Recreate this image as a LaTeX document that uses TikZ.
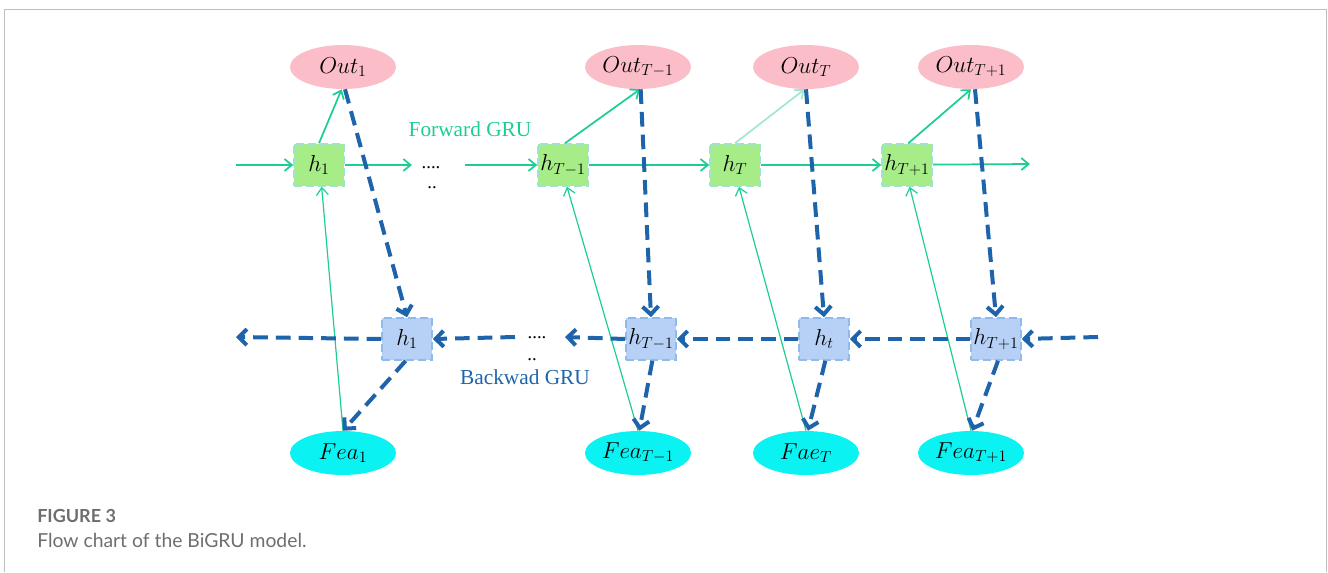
\documentclass[tikz,border=0pt]{standalone}
\usepackage{fontspec}
\setmainfont{Liberation Serif}
\newfontfamily\capfont{Lato}
\usetikzlibrary{arrows.meta,shapes.geometric}
\definecolor{pinkO}{RGB}{251,190,201}
\definecolor{cyanF}{RGB}{10,242,242}
\definecolor{greenF}{RGB}{166,236,135}
\definecolor{greenB}{RGB}{160,226,210}
\definecolor{blueF}{RGB}{182,209,245}
\definecolor{blueB}{RGB}{142,186,236}
\definecolor{fgreen}{RGB}{30,204,150}
\definecolor{fgreenL}{RGB}{160,232,208}
\definecolor{bblue}{RGB}{30,100,170}
\definecolor{capgray}{RGB}{110,110,110}
\definecolor{framegray}{RGB}{190,190,190}
\begin{document}
\begin{tikzpicture}[x=0.75pt,y=-0.75pt,
  outnode/.style={ellipse, fill=pinkO, minimum width=79.5pt, minimum height=33pt, inner sep=0pt, font=\fontsize{16.5}{19}\selectfont},
  feanode/.style={ellipse, fill=cyanF, minimum width=79.5pt, minimum height=33pt, inner sep=0pt, font=\fontsize{16.5}{19}\selectfont},
  fbox/.style={rectangle, fill=greenF, draw=greenB, line width=1.2pt, dash pattern=on 6pt off 3pt, minimum width=37.5pt, minimum height=31.5pt, inner sep=0pt, font=\fontsize{16.5}{19}\selectfont},
  bbox/.style={rectangle, fill=blueF, draw=blueB, line width=1.2pt, dash pattern=on 6pt off 3pt, minimum width=37.5pt, minimum height=31.5pt, inner sep=0pt, font=\fontsize{16.5}{19}\selectfont},
  fwd/.style={draw=fgreen, line width=1.3pt, -{Straight Barb[length=5.5pt,width=9pt]}},
  fwdthin/.style={draw=fgreen, line width=0.9pt, -{Straight Barb[length=5.5pt,width=9pt]}},
  bwd/.style={draw=bblue, line width=3pt, dash pattern=on 11pt off 6pt, -{Straight Barb[length=6pt,width=12pt]}},
  dots/.style={font=\fontsize{14}{16}\selectfont, inner sep=0pt},
  lab/.style={font=\fontsize{16}{19}\selectfont, inner sep=0pt}
]
\useasboundingbox (0,0) rectangle (1328,572);
\draw[framegray, line width=1.1pt] (4.5,572) -- (4.5,9.5) -- (1326.5,9.5) -- (1326.5,572);

% outputs
\node[outnode] (o1) at (343,67) {$Out_1$};
\node[outnode] (o2) at (638,67) {$Out_{T-1}$};
\node[outnode] (o3) at (806,67) {$Out_T$};
\node[outnode] (o4) at (971,67) {$Out_{T+1}$};
% inputs
\node[feanode] (f1) at (343,453) {$Fea_1$};
\node[feanode] (f2) at (638,453) {$Fea_{T-1}$};
\node[feanode] (f3) at (806,453) {$Fae_T$};
\node[feanode] (f4) at (971,453) {$Fea_{T+1}$};
% forward states
\node[fbox] (h1) at (319,165) {$h_1$};
\node[fbox] (h2) at (563,165) {$h_{T-1}$};
\node[fbox] (h3) at (735,165) {$h_T$};
\node[fbox] (h4) at (907,165) {$h_{T+1}$};
% backward states
\node[bbox] (b1) at (407,339) {$h_1$};
\node[bbox] (b2) at (651,339) {$h_{T-1}$};
\node[bbox] (b3) at (824,339) {$h_t$};
\node[bbox] (b4) at (996,339) {$h_{T+1}$};

% labels and dots
\node[lab, text=fgreen] (lf) at (470,129) {Forward GRU};
\node[lab, text=bblue] (lb) at (525,377) {Backwad GRU};
\node[dots] (d1) at (431,168) {....};
\node[dots] (d2) at (432,188) {..};
\node[dots] (d3) at (537,338) {....};
\node[dots] (d4) at (532,360) {..};

% coordinates for free ends
\coordinate (fs) at (236,165);
\coordinate (fa) at (412,165);
\coordinate (fb) at (465,165);
\coordinate (fe) at (1030,164);
\coordinate (bs) at (1098,337);
\coordinate (ba) at (565,337);
\coordinate (bb) at (515,337);
\coordinate (be) at (236,337);

% forward chain
\draw[fwd] (fs) -- (h1.west);
\draw[fwd] (h1.east) -- (fa);
\draw[fwd] (fb) -- (h2.west);
\draw[fwd] (h2.east) -- (h3.west);
\draw[fwd] (h3.east) -- (h4.west);
\draw[fwd] ([yshift=0.3pt]h4.east) -- (fe);
% forward to outputs
\draw[fwd] (h1.north) -- ([xshift=-1pt]o1.south);
\draw[fwd] ([xshift=1.5pt]h2.north) -- ([xshift=1.5pt]o2.south);
\draw[fwd, draw=fgreenL] (h3.north) -- ([xshift=-1pt]o3.south);
\draw[fwd] ([xshift=1pt]h4.north) -- (o4.south);
% inputs to forward
\draw[fwdthin] (f1.north) -- ([xshift=2pt]h1.south);
\draw[fwdthin] (f2.north) -- ([xshift=3pt]h2.south);
\draw[fwdthin] (f3.north) -- ([xshift=3pt]h3.south);
\draw[fwdthin] (f4.north) -- ([xshift=2pt]h4.south);

% backward chain
\draw[bwd] (bs) -- (b4.east);
\draw[bwd] (b4.west) -- (b3.east);
\draw[bwd] (b3.west) -- (b2.east);
\draw[bwd] (b2.west) -- (ba);
\draw[bwd] (bb) -- (b1.east);
\draw[bwd] (b1.west) -- (be);
% outputs to backward
\draw[bwd] ([xshift=1.5pt]o1.south) -- (b1.north);
\draw[bwd] ([xshift=2pt]o2.south) -- (b2.north);
\draw[bwd] (o3.south) -- (b3.north);
\draw[bwd] ([xshift=3pt]o4.south) -- (b4.north);
% backward to inputs
\draw[bwd] ([xshift=-1pt]b1.south) -- (f1.north);
\draw[bwd] ([xshift=1pt]b2.south) -- ([xshift=1pt]f2.north);
\draw[bwd] ([xshift=1pt]b3.south) -- ([xshift=1.5pt]f3.north);
\draw[bwd] ([xshift=1.5pt]b4.south) -- ([xshift=1pt]f4.north);

% caption
\node[anchor=base west, inner sep=0pt, text=capgray, font=\capfont\bfseries\fontsize{13.5}{15}\selectfont] (cap1) at (37,522) {FIGURE 3};
\node[anchor=base west, inner sep=0pt, text=capgray, font=\capfont\fontsize{14.5}{16}\selectfont] (cap2) at (37,547) {Flow chart of the BiGRU model.};
\end{tikzpicture}
\end{document}
